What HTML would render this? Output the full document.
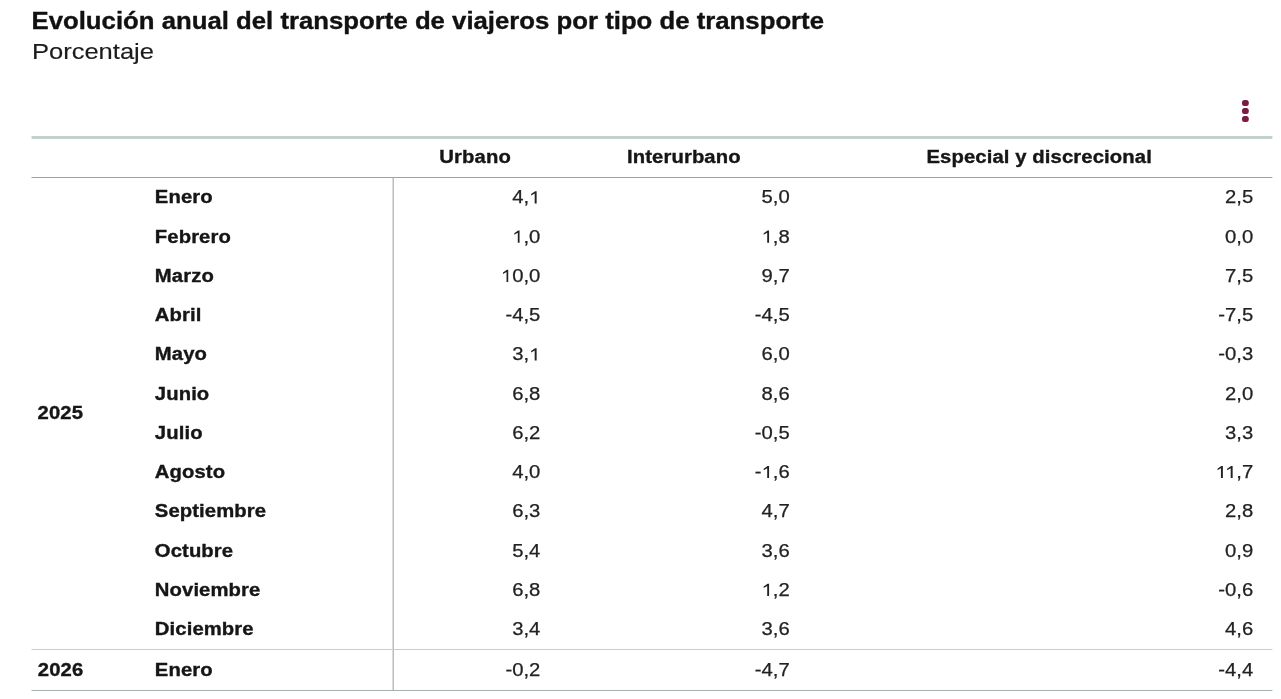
<!DOCTYPE html>
<html><head><meta charset="utf-8"><style>
html,body{margin:0;padding:0;background:#fff;width:1281px;height:699px;overflow:hidden}
#w{position:absolute;left:0;top:0;width:1138.667px;height:699px;transform:scaleX(1.125);transform-origin:0 0;filter:blur(0.45px)}
.t{position:absolute;font-family:"Liberation Sans",sans-serif;font-size:18px;line-height:1;white-space:nowrap;color:#161616;-webkit-text-stroke:0.35px currentColor}
.b{font-weight:bold;letter-spacing:0.1px}
.n{font-weight:normal;color:#222;-webkit-text-stroke:0.25px currentColor}
.title{font-weight:bold;font-size:24px;letter-spacing:0;color:#111;transform:scaleX(0.9535);transform-origin:0 0}
.sub{font-size:22.7px;color:#1b1b1b;-webkit-text-stroke:0.15px currentColor}
.one{position:relative;color:transparent;-webkit-text-stroke:0}
.k{margin-right:-0.0742em}
.one::before{content:"";position:absolute;left:0;top:0;width:0.5562em;height:0.905em;background:#222;clip-path:polygon(67.2% 100%, 49.9% 100%, 49.9% 38.5%, 18.5% 51.0%, 18.5% 41.5%, 53.5% 24.0%, 67.2% 24.0%)}
.ln{position:absolute}
.dot{position:absolute;width:5.3px;height:6px;border-radius:42%;background:#7a1a45}
</style></head><body><div id="w">

<div class="ln" style="left:27.9px;width:1103.0px;top:136.3px;height:2.5px;background:#c3d1cc"></div>
<div class="ln" style="left:27.9px;width:1103.0px;top:176.6px;height:1.1px;background:#a0a0a0"></div>
<div class="ln" style="left:349.3px;width:1.2px;top:177px;height:513px;background:#a6a6a6"></div>
<div class="ln" style="left:27.9px;width:1103.0px;top:649px;height:1px;background:#cbcbcb"></div>
<div class="ln" style="left:27.9px;width:1103.0px;top:689.9px;height:1.3px;background:#a4b3ae"></div>


<div class="dot" style="left:1104.4px;top:100px"></div>
<div class="dot" style="left:1104.4px;top:108px"></div>
<div class="dot" style="left:1104.4px;top:116px"></div>

<div class="t title" style="left:28.30px;top:9.38px">Evolución anual del transporte de viajeros por tipo de transporte</div>
<div class="t sub" style="left:28.40px;top:39.58px">Porcentaje</div>
<div class="t b" style="left:390.50px;top:148.26px">Urbano</div>
<div class="t b" style="left:557.30px;top:148.26px">Interurbano</div>
<div class="t b" style="left:823.50px;top:148.26px">Especial y discrecional</div>
<div class="t b" style="left:137.60px;top:188.26px">Enero</div>
<div class="t n r" style="right:658.37px;top:188.26px">4,<span class="one">1</span></div>
<div class="t n r" style="right:436.67px;top:188.26px">5,0</div>
<div class="t n r" style="right:24.67px;top:188.26px">2,5</div>
<div class="t b" style="left:137.60px;top:227.51px">Febrero</div>
<div class="t n r" style="right:658.37px;top:227.51px"><span class="one">1</span>,0</div>
<div class="t n r" style="right:436.67px;top:227.51px"><span class="one">1</span>,8</div>
<div class="t n r" style="right:24.67px;top:227.51px">0,0</div>
<div class="t b" style="left:137.60px;top:266.76px">Marzo</div>
<div class="t n r" style="right:658.37px;top:266.76px"><span class="one">1</span>0,0</div>
<div class="t n r" style="right:436.67px;top:266.76px">9,7</div>
<div class="t n r" style="right:24.67px;top:266.76px">7,5</div>
<div class="t b" style="left:137.60px;top:306.01px">Abril</div>
<div class="t n r" style="right:658.37px;top:306.01px">-4,5</div>
<div class="t n r" style="right:436.67px;top:306.01px">-4,5</div>
<div class="t n r" style="right:24.67px;top:306.01px">-7,5</div>
<div class="t b" style="left:137.60px;top:345.26px">Mayo</div>
<div class="t n r" style="right:658.37px;top:345.26px">3,<span class="one">1</span></div>
<div class="t n r" style="right:436.67px;top:345.26px">6,0</div>
<div class="t n r" style="right:24.67px;top:345.26px">-0,3</div>
<div class="t b" style="left:137.60px;top:384.51px">Junio</div>
<div class="t n r" style="right:658.37px;top:384.51px">6,8</div>
<div class="t n r" style="right:436.67px;top:384.51px">8,6</div>
<div class="t n r" style="right:24.67px;top:384.51px">2,0</div>
<div class="t b" style="left:137.60px;top:423.76px">Julio</div>
<div class="t n r" style="right:658.37px;top:423.76px">6,2</div>
<div class="t n r" style="right:436.67px;top:423.76px">-0,5</div>
<div class="t n r" style="right:24.67px;top:423.76px">3,3</div>
<div class="t b" style="left:137.60px;top:463.01px">Agosto</div>
<div class="t n r" style="right:658.37px;top:463.01px">4,0</div>
<div class="t n r" style="right:436.67px;top:463.01px">-<span class="one">1</span>,6</div>
<div class="t n r" style="right:24.67px;top:463.01px"><span class="one k">1</span><span class="one">1</span>,7</div>
<div class="t b" style="left:137.60px;top:502.26px">Septiembre</div>
<div class="t n r" style="right:658.37px;top:502.26px">6,3</div>
<div class="t n r" style="right:436.67px;top:502.26px">4,7</div>
<div class="t n r" style="right:24.67px;top:502.26px">2,8</div>
<div class="t b" style="left:137.60px;top:541.51px">Octubre</div>
<div class="t n r" style="right:658.37px;top:541.51px">5,4</div>
<div class="t n r" style="right:436.67px;top:541.51px">3,6</div>
<div class="t n r" style="right:24.67px;top:541.51px">0,9</div>
<div class="t b" style="left:137.60px;top:580.76px">Noviembre</div>
<div class="t n r" style="right:658.37px;top:580.76px">6,8</div>
<div class="t n r" style="right:436.67px;top:580.76px"><span class="one">1</span>,2</div>
<div class="t n r" style="right:24.67px;top:580.76px">-0,6</div>
<div class="t b" style="left:137.60px;top:620.01px">Diciembre</div>
<div class="t n r" style="right:658.37px;top:620.01px">3,4</div>
<div class="t n r" style="right:436.67px;top:620.01px">3,6</div>
<div class="t n r" style="right:24.67px;top:620.01px">4,6</div>
<div class="t b" style="left:33.40px;top:403.76px">2025</div>
<div class="t b" style="left:33.60px;top:660.56px">2026</div>
<div class="t b" style="left:137.60px;top:660.56px">Enero</div>
<div class="t n r" style="right:658.37px;top:660.56px">-0,2</div>
<div class="t n r" style="right:436.67px;top:660.56px">-4,7</div>
<div class="t n r" style="right:24.67px;top:660.56px">-4,4</div>
</div></body></html>
